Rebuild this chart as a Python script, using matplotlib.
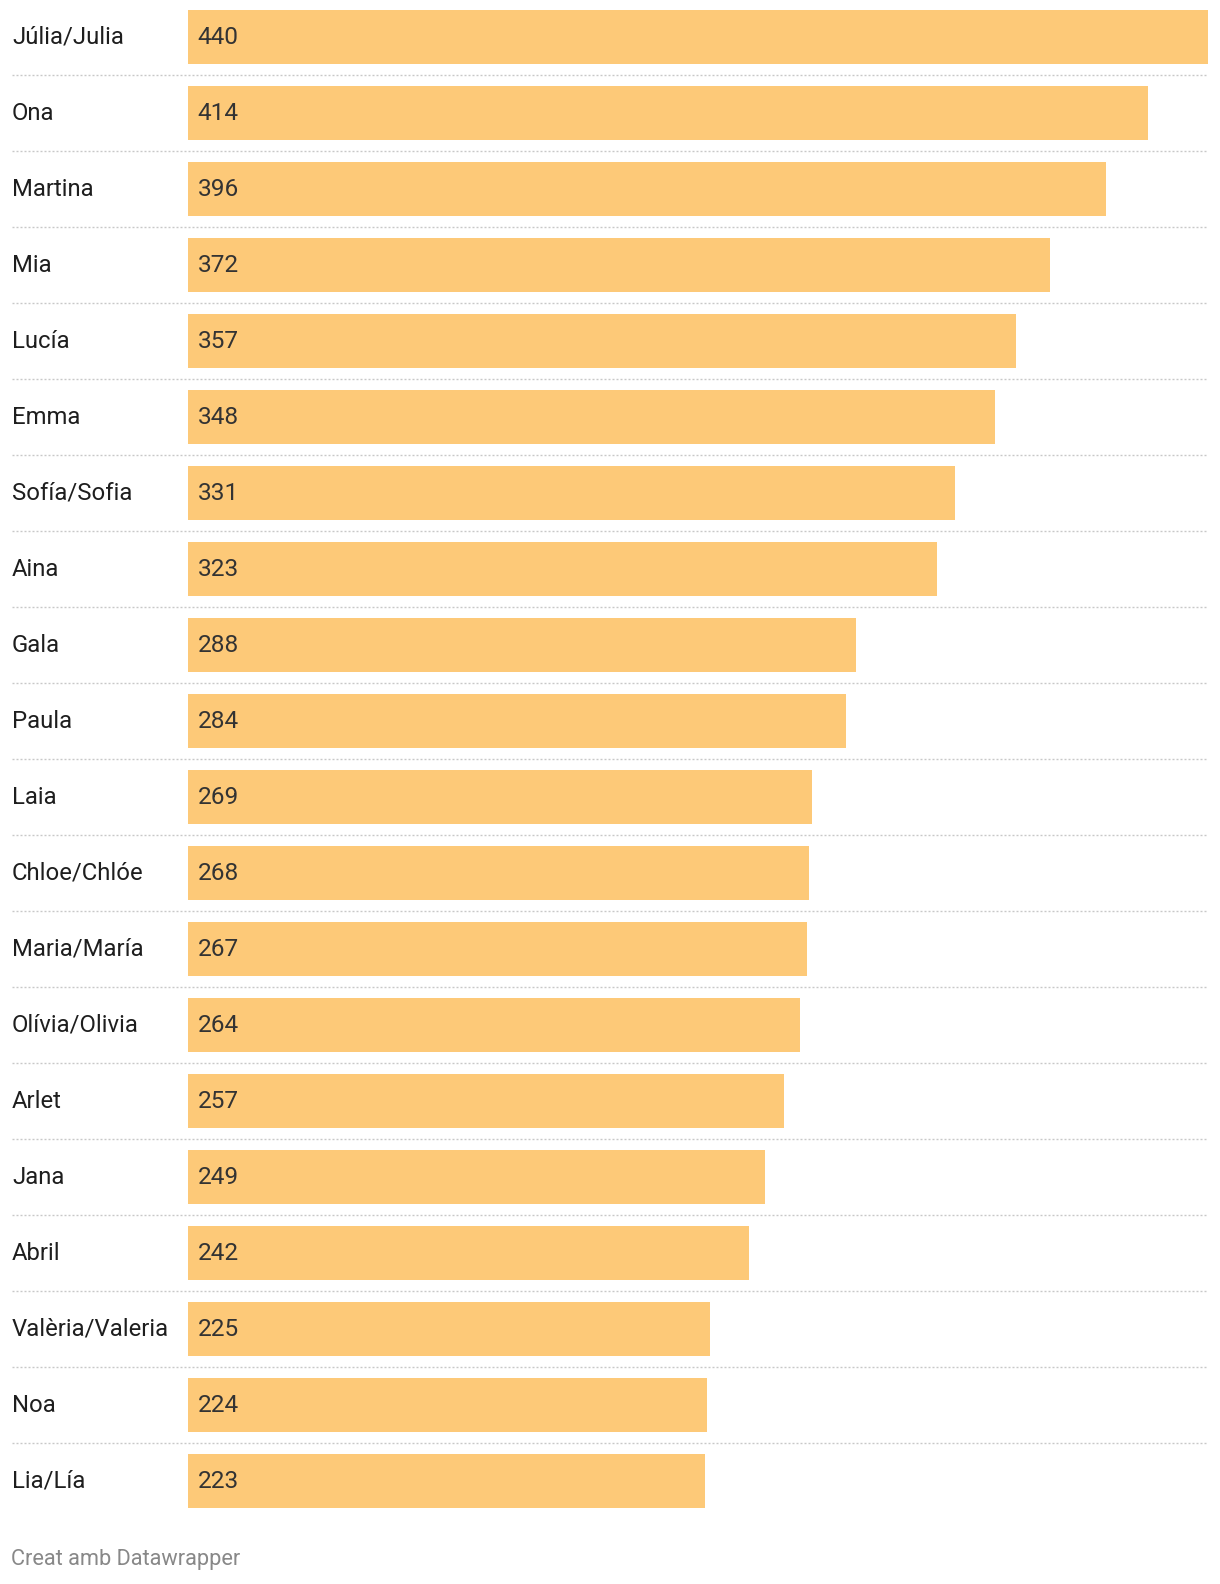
import matplotlib.pyplot as plt

names = ["Júlia/Julia", "Ona", "Martina", "Mia", "Lucía", "Emma", "Sofía/Sofia",
         "Aina", "Gala", "Paula", "Laia", "Chloe/Chlóe", "Maria/María",
         "Olívia/Olivia", "Arlet", "Jana", "Abril", "Valèria/Valeria", "Noa", "Lia/Lía"]
values = [440, 414, 396, 372, 357, 348, 331, 323, 288, 284,
          269, 268, 267, 264, 257, 249, 242, 225, 224, 223]

W, H = 1220, 1584
bar_color = "#fdc978"

plt.rcParams['font.family'] = ['Roboto', 'DejaVu Sans']

fig = plt.figure(figsize=(W / 100, H / 100), dpi=100)
# axes: x from px 188 to 1208, y from px 0 to 1520
ax = fig.add_axes([188 / W, 1 - 1520 / H, 1020 / W, 1520 / H])

rows = list(range(len(names)))
ax.barh(rows, values, height=54 / 76, color=bar_color, linewidth=0)
ax.set_xlim(0, max(values))
ax.set_ylim((1520 - 37) / 76, -37 / 76)
ax.axis('off')

lab_x = (12 - 188) / 1020
for i, (n, v) in enumerate(zip(names, values)):
    ax.text(lab_x, i, n, transform=ax.get_yaxis_transform(), ha='left', va='center',
            fontsize=17.2, color='#1e1e1e', clip_on=False)
    ax.annotate(str(v), (0, i), xytext=(7, 0), textcoords='offset points',
                ha='left', va='center', fontsize=17.6, color='#333333')

for i in rows[:-1]:
    ax.plot([lab_x, 1], [i + 0.5, i + 0.5], transform=ax.get_yaxis_transform(),
            color='#c8c8c8', lw=1.0, linestyle=(0, (1.44, 1.44)), clip_on=False)

fig.text(11 / W, 1 - 1560 / H, "Creat amb Datawrapper", ha='left', va='center',
         fontsize=15.7, color='#888888')

fig.savefig("out.png", dpi=100)
